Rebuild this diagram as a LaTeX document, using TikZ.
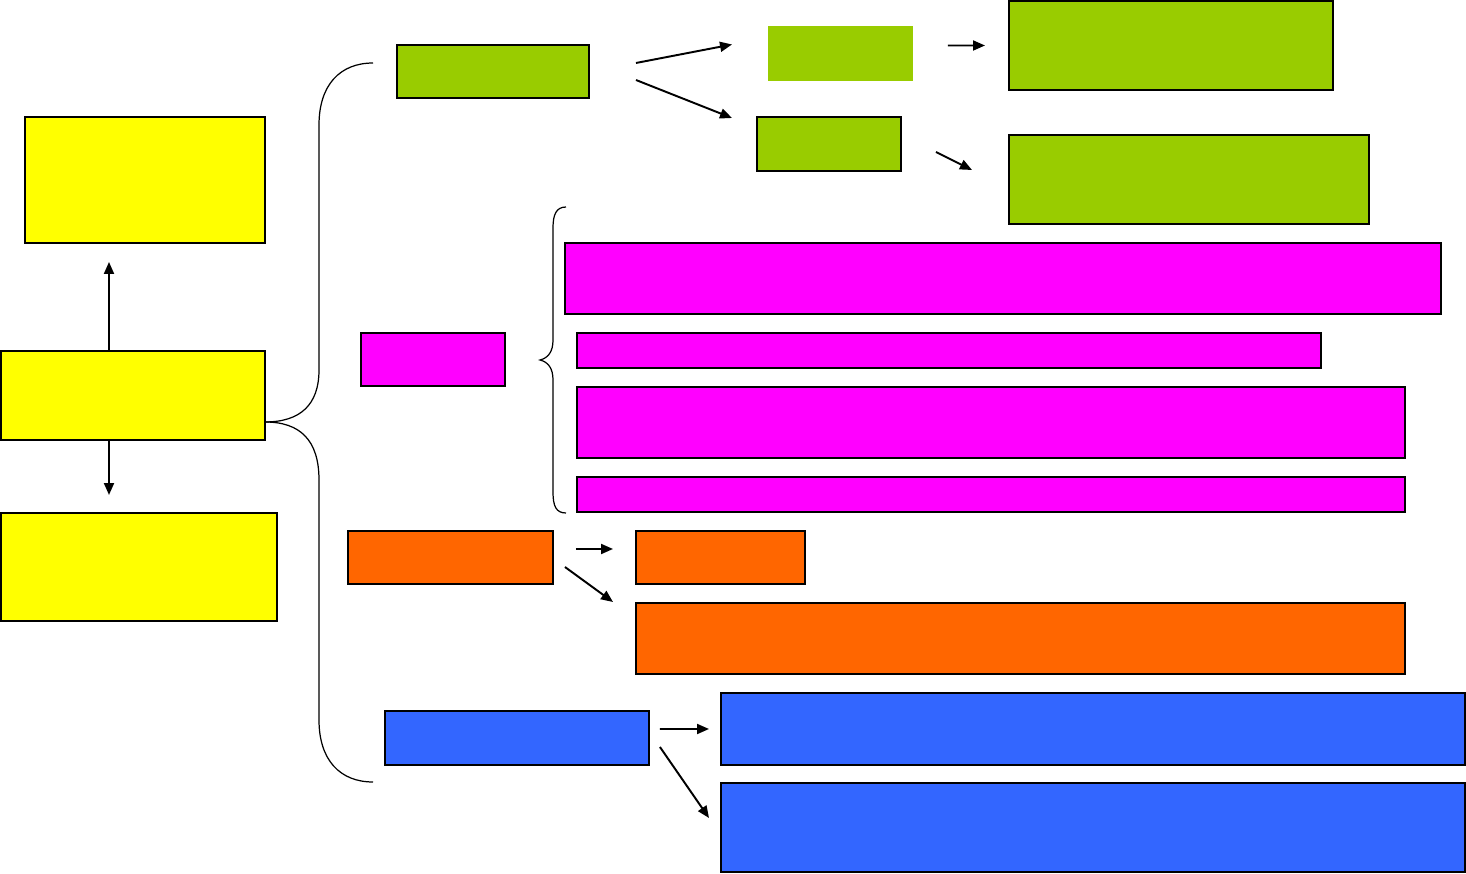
\documentclass[tikz,border=0pt]{standalone}
\usetikzlibrary{arrows.meta,calc}
\definecolor{boxyellow}{HTML}{FFFF00}
\definecolor{boxgreen}{HTML}{99CC00}
\definecolor{boxpink}{HTML}{FF00FF}
\definecolor{boxorange}{HTML}{FF6600}
\definecolor{boxblue}{HTML}{3366FF}

\begin{document}
\begin{tikzpicture}[
  x=0.02cm,y=-0.02cm,
  box/.style={draw=black,line width=1.1pt,inner sep=0pt,outer sep=0pt,anchor=north west},
  flat/.style={inner sep=0pt,outer sep=0pt,anchor=north west},
  arr/.style={-{Triangle[length=2.4mm,width=2mm]},line width=1.1pt},
  brace/.style={draw=black,line width=0.7pt},
]
\useasboundingbox (0,0) rectangle (1466,874);
\node[box,fill=boxyellow,minimum width=4.8cm,minimum height=2.52cm] (y1) at (25,117) {};
\node[box,fill=boxyellow,minimum width=5.28cm,minimum height=1.78cm] (y2) at (1,351) {};
\node[box,fill=boxyellow,minimum width=5.52cm,minimum height=2.16cm] (y3) at (1,513) {};
\node[box,fill=boxgreen,minimum width=3.84cm,minimum height=1.06cm] (g1) at (397,45) {};
\node[flat,fill=boxgreen,minimum width=2.9cm,minimum height=1.1cm] (g2) at (768,26) {};
\node[box,fill=boxgreen,minimum width=2.88cm,minimum height=1.08cm] (g3) at (757,117) {};
\node[box,fill=boxgreen,minimum width=6.48cm,minimum height=1.78cm] (g4) at (1009,1) {};
\node[box,fill=boxgreen,minimum width=7.2cm,minimum height=1.78cm] (g5) at (1009,135) {};
\node[box,fill=boxpink,minimum width=2.88cm,minimum height=1.06cm] (m0) at (361,333) {};
\node[box,fill=boxpink,minimum width=17.52cm,minimum height=1.42cm] (m1) at (565,243) {};
\node[box,fill=boxpink,minimum width=14.88cm,minimum height=0.7cm] (m2) at (577,333) {};
\node[box,fill=boxpink,minimum width=16.56cm,minimum height=1.42cm] (m3) at (577,387) {};
\node[box,fill=boxpink,minimum width=16.56cm,minimum height=0.7cm] (m4) at (577,477) {};
\node[box,fill=boxorange,minimum width=4.1cm,minimum height=1.06cm] (o0) at (348,531) {};
\node[box,fill=boxorange,minimum width=3.38cm,minimum height=1.06cm] (o1) at (636,531) {};
\node[box,fill=boxorange,minimum width=15.38cm,minimum height=1.42cm] (o2) at (636,603) {};
\node[box,fill=boxblue,minimum width=5.28cm,minimum height=1.08cm] (b0) at (385,711) {};
\node[box,fill=boxblue,minimum width=14.88cm,minimum height=1.44cm] (b1) at (721,693) {};
\node[box,fill=boxblue,minimum width=14.88cm,minimum height=1.78cm] (b2) at (721,783) {};
\draw[arr] ($(y2.north west)+(108,0)$) -- ($(y1.south west)+(84,19)$);
\draw[arr] ($(y2.south west)+(108,0)$) -- ($(y3.north west)+(108,-18)$);
\draw[arr] ($(g1.east)+(47,-8.5)$) -- ($(g2.west)+(-36,-9)$);
\draw[arr] ($(g1.east)+(47,8.5)$) -- ($(g3.west)+(-25,-26)$);
\draw[arr] ($(g2.east)+(35,-8)$) -- ($(g4.west)+(-24,0)$);
\draw[arr] ($(g3.east)+(35,8)$) -- ($(g5.west)+(-37,-9.5)$);
\draw[arr] ($(o0.east)+(23,-8.5)$) -- ($(o1.west)+(-23,-8.5)$);
\draw[arr] ($(o0.east)+(12,9.5)$) -- ($(o2.west)+(-23,-36.5)$);
\draw[arr] ($(b0.east)+(11,-9)$) -- ($(b1.west)+(-12,0)$);
\draw[arr] ($(b0.east)+(11,9)$) -- ($(b2.west)+(-12,-9.5)$);
\draw[brace] ($(y2.south east)+(0,-18)$) .. controls (300,422) and (319,405) .. (319,370)
  -- (319,125) .. controls (319,85) and (340,63) .. (373,63);
\draw[brace] ($(y2.south east)+(0,-18)$) .. controls (300,422) and (319,440) .. (319,480)
  -- (319,720) .. controls (319,760) and (340,782) .. (373,782);
\draw[brace] (566,207) .. controls (556,207) and (553,215) .. (553,228) -- (553,340)
  .. controls (553,352) and (548,358) .. (540,360) .. controls (548,362) and (553,368) .. (553,380)
  -- (553,492) .. controls (553,506) and (556,513) .. (566,513);
\end{tikzpicture}
\end{document}
